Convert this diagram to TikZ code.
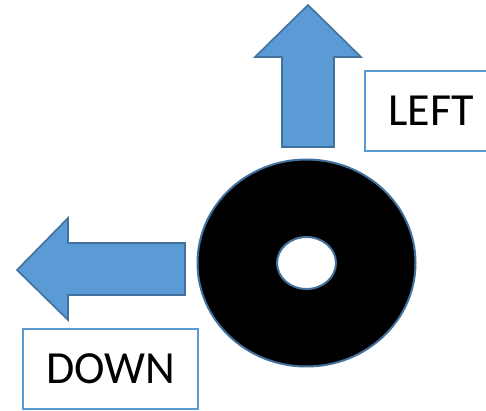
\documentclass[tikz,border=0pt]{standalone}
\usepackage{fontspec}
\setmainfont{Carlito}
\definecolor{arrfill}{HTML}{5B9BD5}
\definecolor{arrline}{HTML}{41719C}
\definecolor{boxline}{HTML}{5B9BD5}
\begin{document}
\begin{tikzpicture}[x=1pt,y=-1pt,
  bigarrow/.style={fill=arrfill,draw=arrline,line width=1.6pt,line join=miter},
  labelbox/.style={draw=boxline,line width=2pt,fill=white,font=\fontsize{46}{46}\selectfont,inner sep=0pt,anchor=center},
  disc/.style={fill=black,draw=arrline,line width=2pt}]
\useasboundingbox (0,0) rectangle (486,411);
\clip (0,0) rectangle (486,411);
% up arrow
\draw[bigarrow] (308,5) -- (361,57) -- (334,57) -- (334,147) -- (282,147) -- (282,57) -- (255,57) -- cycle;
% left arrow
\draw[bigarrow] (17,270) -- (68,218) -- (68,243) -- (185,243) -- (185,295) -- (68,295) -- (68,320) -- cycle;
% donut
\draw[disc,even odd rule] (306.5,263) ellipse [x radius=109, y radius=103.5] (306.5,263) ellipse [x radius=29.5, y radius=26];
\node[disc,draw=none,fill=none] (donut) at (306.5,263) {};
% boxes
\node[labelbox,minimum width=132pt,minimum height=80pt] (leftbox) at (431,111) {LEFT};
\node[labelbox,minimum width=175pt,minimum height=80pt] (downbox) at (110.5,369) {DOWN};
\end{tikzpicture}
\end{document}
